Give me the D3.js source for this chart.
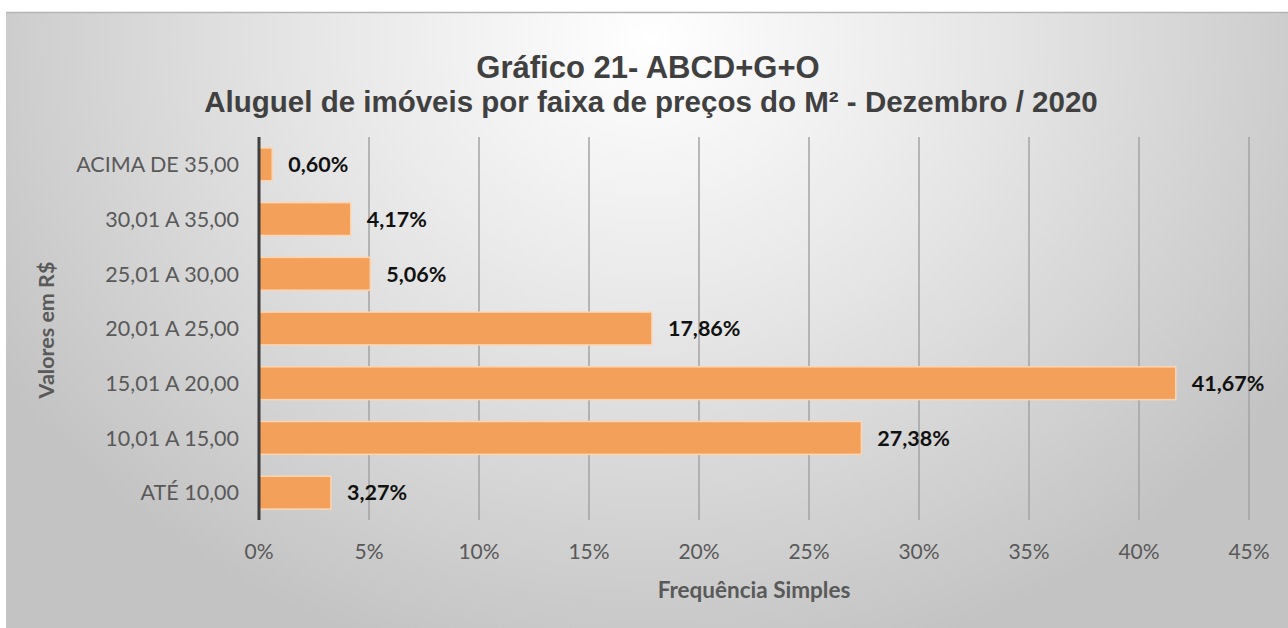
<!DOCTYPE html>
<html>
<head>
<meta charset="utf-8">
<script src="https://cdnjs.cloudflare.com/ajax/libs/d3/7.8.5/d3.min.js"></script>
<style>
  html, body { margin: 0; padding: 0; background: #ffffff; }
  svg { display: block; }
</style>
</head>
<body>
<svg id="chart" width="1288" height="628"></svg>
<script>
// faixas de preço, de cima para baixo
var categories = ['ACIMA DE 35,00', '30,01 A 35,00', '25,01 A 30,00', '20,01 A 25,00',
                  '15,01 A 20,00', '10,01 A 15,00', 'ATÉ 10,00'];
var values = [0.60, 4.17, 5.06, 17.86, 41.67, 27.38, 3.27];
var ticks = [0, 5, 10, 15, 20, 25, 30, 35, 40, 45];

var titleLine1 = 'Gráfico 21- ABCD+G+O';
var titleLine2 = 'Aluguel de imóveis por faixa de preços do M² - Dezembro / 2020';
var xTitle = 'Frequência Simples';
var yTitle = 'Valores em R$';

var svg = d3.select('#chart');
var labelFont = 'Lato, "Open Sans", sans-serif';
var titleFont = '"Liberation Sans", Arial, sans-serif';

// fundo com gradiente
var defs = svg.append('defs');
var grad = defs.append('radialGradient')
    .attr('id', 'bg')
    .attr('gradientUnits', 'userSpaceOnUse')
    .attr('cx', 650).attr('cy', 40).attr('r', 760)
    .attr('gradientTransform', 'translate(650,40) scale(1,0.85) translate(-650,-40)');
grad.append('stop').attr('offset', '0%').attr('stop-color', '#ffffff');
grad.append('stop').attr('offset', '45%').attr('stop-color', '#e6e6e6');
grad.append('stop').attr('offset', '100%').attr('stop-color', '#c3c3c3');

svg.append('rect')
    .attr('x', 6).attr('y', 12)
    .attr('width', 1282).attr('height', 616)
    .attr('fill', 'url(#bg)');
svg.append('line')
    .attr('x1', 6).attr('x2', 1288)
    .attr('y1', 12.5).attr('y2', 12.5)
    .attr('stroke', '#b4b4b4').attr('stroke-width', 1.5);

var x = d3.scaleLinear().domain([0, 45]).range([259, 1249]);
var y = d3.scaleBand().domain(categories).range([137, 520]).paddingInner(0.4).paddingOuter(0.2);

// grade vertical
svg.append('g')
    .selectAll('line')
    .data(ticks.filter(function(t) { return t > 0; }))
    .enter().append('line')
    .attr('x1', function(d) { return x(d); })
    .attr('x2', function(d) { return x(d); })
    .attr('y1', 137).attr('y2', 520)
    .attr('stroke', '#a3a3a3').attr('stroke-width', 1.5);

// barras
svg.append('g')
    .selectAll('rect')
    .data(values)
    .enter().append('rect')
    .attr('x', x(0))
    .attr('y', function(d, i) { return y(categories[i]); })
    .attr('width', function(d) { return x(d) - x(0); })
    .attr('height', y.bandwidth())
    .attr('fill', '#f3a05b')
    .attr('stroke', '#fcd6b2')
    .attr('stroke-width', 1.5);

// eixo vertical
svg.append('line')
    .attr('x1', x(0)).attr('x2', x(0))
    .attr('y1', 137).attr('y2', 520)
    .attr('stroke', '#3f3f3f').attr('stroke-width', 3);

// rotulos de dados
svg.append('g')
    .selectAll('text')
    .data(values)
    .enter().append('text')
    .attr('x', function(d) { return x(d) + 16; })
    .attr('y', function(d, i) { return y(categories[i]) + y.bandwidth() / 2; })
    .attr('dy', '0.36em')
    .attr('font-family', labelFont)
    .attr('font-weight', 'bold')
    .attr('font-size', 21.5)
    .attr('fill', '#111111')
    .text(function(d) { return d.toFixed(2).replace('.', ',') + '%'; });

// rotulos das categorias
svg.append('g')
    .selectAll('text')
    .data(categories)
    .enter().append('text')
    .attr('x', 239)
    .attr('y', function(d) { return y(d) + y.bandwidth() / 2; })
    .attr('dy', '0.36em')
    .attr('text-anchor', 'end')
    .attr('font-family', labelFont)
    .attr('font-size', 21.5)
    .attr('fill', '#595959')
    .text(function(d) { return d; });

// rotulos do eixo x
svg.append('g')
    .selectAll('text')
    .data(ticks)
    .enter().append('text')
    .attr('x', function(d) { return x(d); })
    .attr('y', 551)
    .attr('dy', '0.36em')
    .attr('text-anchor', 'middle')
    .attr('font-family', labelFont)
    .attr('font-size', 21)
    .attr('fill', '#595959')
    .text(function(d) { return d + '%'; });

// titulos dos eixos
svg.append('text')
    .attr('x', 754).attr('y', 590)
    .attr('dy', '0.36em')
    .attr('text-anchor', 'middle')
    .attr('font-family', labelFont)
    .attr('font-weight', 'bold')
    .attr('font-size', 22.5)
    .attr('fill', '#595959')
    .text(xTitle);

svg.append('text')
    .attr('transform', 'translate(46,330) rotate(-90)')
    .attr('dy', '0.36em')
    .attr('text-anchor', 'middle')
    .attr('font-family', labelFont)
    .attr('font-weight', 'bold')
    .attr('font-size', 21.5)
    .attr('fill', '#595959')
    .text(yTitle);

// titulo
svg.append('text')
    .attr('x', 648).attr('y', 67)
    .attr('dy', '0.36em')
    .attr('text-anchor', 'middle')
    .attr('font-family', titleFont)
    .attr('font-weight', 'bold')
    .attr('font-size', 31)
    .attr('fill', '#404040')
    .text(titleLine1);

svg.append('text')
    .attr('x', 651).attr('y', 101)
    .attr('dy', '0.36em')
    .attr('text-anchor', 'middle')
    .attr('font-family', titleFont)
    .attr('font-weight', 'bold')
    .attr('font-size', 29.5)
    .attr('fill', '#404040')
    .text(titleLine2);
</script>
</body>
</html>
